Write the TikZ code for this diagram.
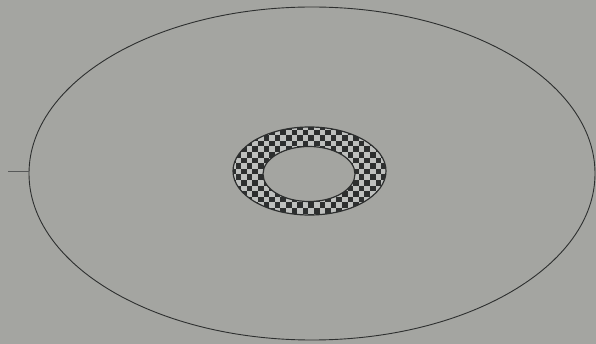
\documentclass[tikz,border=0pt]{standalone}
\definecolor{paper}{RGB}{164,165,161}
\definecolor{ink}{RGB}{45,47,47}
\definecolor{lightcell}{RGB}{190,192,190}
\begin{document}
\begin{tikzpicture}[x=1pt,y=-1pt,
  outline/.style={draw=ink,line width=0.9pt},
  ringline/.style={draw=ink,line width=1.2pt}]
\fill[paper] (0,0) rectangle (596,344);
\useasboundingbox (0,0) rectangle (596,344);
% large ellipse
\draw[outline] (312,173.5) ellipse [x radius=283, y radius=166.5];
% tick at left
\coordinate (t1) at (8,171);
\coordinate (t2) at (29,171);
\draw[draw=ink!80,line width=0.6pt] (t1) -- (t2);
% checkered ring
\begin{scope}[even odd rule]
  \clip (309.5,171) ellipse [x radius=76.5, y radius=44]
        (309,174) ellipse [x radius=46, y radius=27.5];
  \fill[lightcell] (230,124) rectangle (390,218);
  \foreach \i in {0,...,28}{
    \foreach \j in {0,...,16}{
      \pgfmathtruncatemacro{\parity}{mod(\i+\j,2)}
      \ifnum\parity=0
        \fill[ink] (230+\i*5.6,124+\j*5.6) rectangle ++(5.6,5.6);
      \fi
    }
  }
\end{scope}
\draw[ringline] (309.5,171) ellipse [x radius=76.5, y radius=44];
\draw[ringline] (309,174) ellipse [x radius=46, y radius=27.5];
\end{tikzpicture}
\end{document}
